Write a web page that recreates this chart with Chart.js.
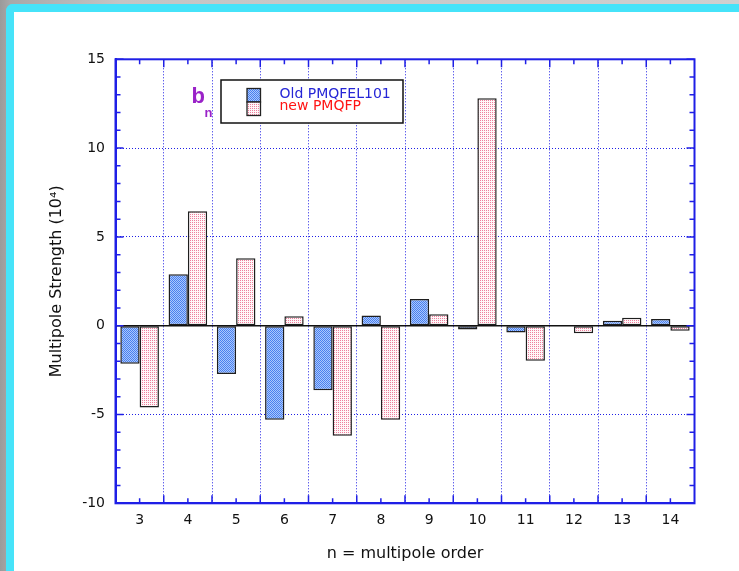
<!DOCTYPE html>
<html>
<head>
<meta charset="utf-8">
<script src="https://cdn.jsdelivr.net/npm/chart.js@4.4.1/dist/chart.umd.min.js"></script>
<style>
  html, body { margin: 0; padding: 0; width: 739px; height: 571px; overflow: hidden; }
  body { background: linear-gradient(to right, #9a9a9a 0px, #a8a8a8 10px, #c4c4c4 120px, #cfcfcf 739px); position: relative; }
  #frame { position: absolute; left: 6px; top: 4px; width: 760px; height: 600px; background: #fff;
           border-left: 8px solid #46e3f9; border-top: 8px solid #46e3f9; border-top-left-radius: 7px; box-sizing: border-box; }
  #c { position: absolute; left: 0; top: 0; }
</style>
</head>
<body>
<div id="frame"></div>
<canvas id="c" width="739" height="571"></canvas>
<script>
// ---- data ----
const categories = ['3', '4', '5', '6', '7', '8', '9', '10', '11', '12', '13', '14'];
const oldValues  = [-2.14, 2.9, -2.72, -5.3, -3.64, 0.58, 1.5, -0.22, -0.38, 0, 0.28, 0.38];
const newValues  = [-4.6, 6.45, 3.8, 0.53, -6.2, -5.3, 0.64, 12.8, -1.97, -0.43, 0.45, -0.28];
const seriesLabels = ['Old PMQFEL101', 'new PMQFP'];
const yTickValues = [-10, -5, 0, 5, 10, 15];
const xTitle = 'n = multipole order';
const yTitle = 'Multipole Strength (10\u2074)';

const canvas = document.getElementById('c');
const ctx = canvas.getContext('2d');

function makePattern(base, dot, mode) {
  const p = document.createElement('canvas');
  p.width = 4; p.height = 4;
  const g = p.getContext('2d');
  g.fillStyle = base; g.fillRect(0, 0, 4, 4);
  g.fillStyle = dot;
  for (let x = 0; x < 4; x++) for (let y = 0; y < 4; y++) {
    if (mode === 'checker' ? ((x + y) % 2 === 0) : ((x % 2 === 0) && (y % 2 === 0))) g.fillRect(x, y, 1, 1);
  }
  return ctx.createPattern(p, 'repeat');
}
const bluePattern = makePattern('#a9c8fd', '#4a7fee', 'checker');
const pinkPattern = makePattern('#fff6f8', '#ee7f9c', 'dots');
const seriesTextColors = ['#2626d6', '#ff1414'];
const AXIS = '#1f1fe6';
const FONT = '"DejaVu Sans", sans-serif';

const decor = {
  id: 'decor',
  afterDatasetsDraw(chart) {
    const {ctx, chartArea: a, scales: {x, y}} = chart;
    ctx.save();
    // zero line
    ctx.strokeStyle = '#111'; ctx.lineWidth = 1.5;
    const y0 = y.getPixelForValue(0);
    ctx.beginPath(); ctx.moveTo(a.left, y0); ctx.lineTo(a.right, y0); ctx.stroke();
    // frame
    ctx.strokeStyle = AXIS; ctx.lineWidth = 2;
    ctx.strokeRect(a.left, a.top, a.right - a.left, a.bottom - a.top);
    // y minor / major ticks, left and right, inward
    ctx.lineWidth = 1.5;
    for (let v = y.min; v <= y.max; v++) {
      const py = y.getPixelForValue(v);
      const len = (v % 5 === 0) ? 8 : 5;
      ctx.beginPath();
      ctx.moveTo(a.left, py); ctx.lineTo(a.left + len, py);
      ctx.moveTo(a.right, py); ctx.lineTo(a.right - len, py);
      ctx.stroke();
    }
    // x ticks: centers short, boundaries longer
    const half = (x.getPixelForValue(1) - x.getPixelForValue(0)) / 2;
    categories.forEach((c, i) => {
      const px = x.getPixelForValue(i);
      ctx.beginPath();
      ctx.moveTo(px, a.top); ctx.lineTo(px, a.top + 5);
      ctx.moveTo(px, a.bottom); ctx.lineTo(px, a.bottom - 5);
      const bx = px + half;
      if (i < categories.length - 1) {
        ctx.moveTo(bx, a.top); ctx.lineTo(bx, a.top + 8);
        ctx.moveTo(bx, a.bottom); ctx.lineTo(bx, a.bottom - 8);
      }
      ctx.stroke();
    });
    ctx.restore();
  },
  afterDraw(chart) {
    const {ctx} = chart;
    ctx.save();
    // b_n label
    ctx.fillStyle = '#9a22c8';
    ctx.textBaseline = 'alphabetic';
    ctx.font = 'bold 22px "Liberation Sans", Arial, sans-serif';
    ctx.fillText('b', 191.5, 103.3);
    ctx.font = 'bold 13px "Liberation Sans", Arial, sans-serif';
    ctx.fillText('n', 204.5, 117);
    // legend box
    ctx.fillStyle = '#fff';
    ctx.fillRect(221, 80, 182, 43);
    ctx.strokeStyle = '#111'; ctx.lineWidth = 1.5;
    ctx.strokeRect(221, 80, 182, 43);
    const sw = [bluePattern, pinkPattern];
    for (let i = 0; i < 2; i++) {
      const sy = 88.5 + i * 13.5;
      ctx.fillStyle = sw[i];
      ctx.fillRect(247, sy, 13.5, 13.5);
      ctx.strokeStyle = '#222'; ctx.lineWidth = 1.3;
      ctx.strokeRect(247, sy, 13.5, 13.5);
    }
    ctx.font = '14px ' + FONT;
    seriesLabels.forEach((t, i) => {
      ctx.fillStyle = seriesTextColors[i];
      ctx.fillText(t, 279.5, 97.5 + i * 12);
    });
    ctx.restore();
  }
};

new Chart(ctx, {
  type: 'bar',
  data: {
    labels: categories,
    datasets: [
      { label: seriesLabels[0], data: oldValues, backgroundColor: bluePattern, borderColor: '#1e1e1e', borderWidth: 1.5, borderSkipped: false },
      { label: seriesLabels[1], data: newValues, backgroundColor: pinkPattern, borderColor: '#1e1e1e', borderWidth: 1.5, borderSkipped: false }
    ]
  },
  options: {
    responsive: false,
    animation: false,
    devicePixelRatio: 1,
    layout: { padding: { top: 59.3, right: 44.5, left: 0, bottom: 0 } },
    plugins: { legend: { display: false }, tooltip: { enabled: false } },
    datasets: { bar: { barPercentage: 1.0, categoryPercentage: 0.8 } },
    scales: {
      x: {
        offset: true,
        grid: { display: true, offset: true, color: AXIS, lineWidth: 1, drawTicks: false },
        border: { display: true, color: AXIS, width: 2, dash: [1, 2] },
        ticks: { color: '#111', font: { family: FONT, size: 14 }, padding: 9 },
        title: { display: true, text: xTitle, color: '#111', font: { family: FONT, size: 16 }, padding: { top: 0, bottom: 8 } },
        afterFit(scale) { scale.height = 67.7; }
      },
      y: {
        min: -10, max: 15,
        afterBuildTicks(scale) { scale.ticks = yTickValues.map(v => ({ value: v })); },
        grid: { display: true, color: AXIS, lineWidth: 1, drawTicks: false },
        border: { display: true, color: AXIS, width: 2, dash: [1, 2] },
        ticks: { color: '#111', font: { family: FONT, size: 14 }, padding: 10.5 },
        title: { display: true, text: yTitle, color: '#111', font: { family: FONT, size: 16 }, padding: { top: 47, bottom: 0 } },
        afterFit(scale) { scale.width = 115.5; }
      }
    }
  },
  plugins: [decor]
});
</script>
</body>
</html>
